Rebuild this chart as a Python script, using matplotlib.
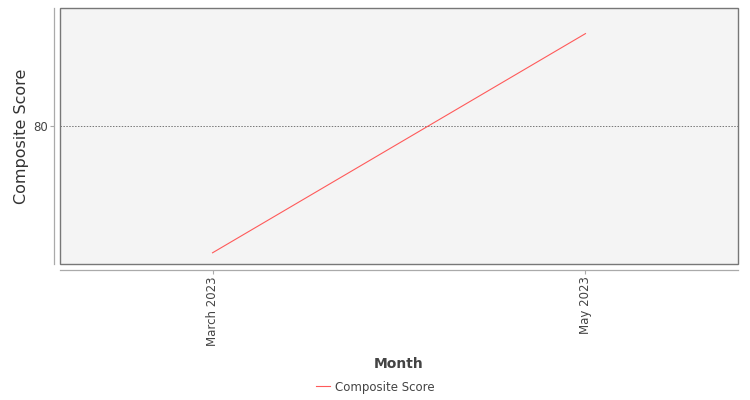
import matplotlib
matplotlib.use("Agg")
import matplotlib.pyplot as plt
from matplotlib.patches import Rectangle

# --- Data ---
months = ["March 2023", "May 2023"]
composite_score = [72.1, 85.8]
y_ticks = [80]
# --- End Data ---

TEXT_COLOR = "#444444"
LINE_COLOR = "#ff5a5a"

fig = plt.figure(figsize=(7.5, 4), dpi=100)
ax = fig.add_axes([60 / 750, 1 - 264 / 400, 678 / 750, 256 / 400])
ax.set_facecolor("#f4f4f4")

x = list(range(len(months)))
ax.plot(x, composite_score, color=LINE_COLOR, linewidth=0.8, label="Composite Score")

# category spacing like the original (5% margins each side, 20% between)
ax.set_xlim(-0.409, len(months) - 1 + 0.409)
ax.set_ylim(71.4, 87.4)
ax.set_xticks(x)
ax.set_xticklabels(months)
ax.set_yticks(y_ticks)

ax.grid(axis="y", color="#777777", linestyle=(0, (1.5, 1.5)), linewidth=0.7)
ax.grid(axis="x", visible=False)

for side in ["top", "right"]:
    ax.spines[side].set_visible(False)
for side in ["left", "bottom"]:
    ax.spines[side].set_position(("outward", 4))
    ax.spines[side].set_color("#aaaaaa")
    ax.spines[side].set_linewidth(0.9)

# plot border
ax.add_patch(Rectangle((0, 0), 1, 1, transform=ax.transAxes, fill=False,
                       edgecolor="#777777", linewidth=1.0, clip_on=False, zorder=5))

ax.tick_params(axis="both", colors="#aaaaaa", length=3, width=0.8,
               labelcolor=TEXT_COLOR, labelsize=8.5, pad=2)
ax.tick_params(axis="x", labelrotation=90)

ax.set_ylabel("Composite Score", fontsize=11.5, color="#333333", va="center")
ax.yaxis.set_label_coords((22 - 60) / 678, 0.5)
ax.set_xlabel("Month", fontsize=10, fontweight="bold", color=TEXT_COLOR, va="center")
ax.xaxis.set_label_coords(0.5, (264 - 364) / 256)

fig.legend(loc="center", bbox_to_anchor=(0.5, 1 - 387 / 400), frameon=False,
           fontsize=8.5, labelcolor=TEXT_COLOR, handlelength=1.2, handletextpad=0.4)

fig.savefig("out.png", dpi=100)
